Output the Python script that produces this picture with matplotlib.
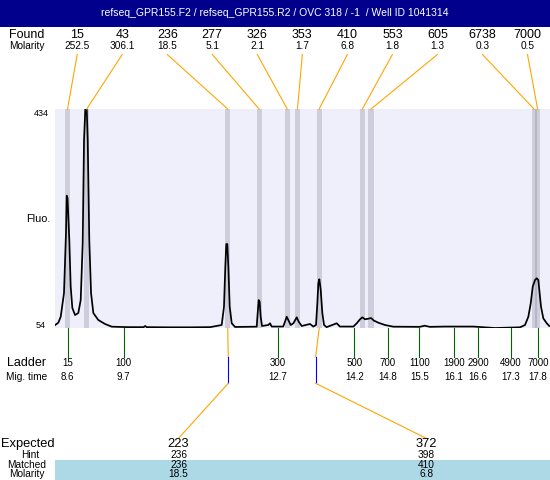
import matplotlib
matplotlib.use("Agg")
import matplotlib.pyplot as plt
from matplotlib.patches import Rectangle

plt.rcParams['font.family'] = ['Liberation Sans', 'DejaVu Sans']

titulo = "refseq_GPR155.F2 / refseq_GPR155.R2 / OVC 318 / -1  / Well ID 1041314"

# picos encontrados
found_sizes = ['15', '43', '236', '277', '326', '353', '410', '553', '605', '6738', '7000']
found_molarity = ['252.5', '306.1', '18.5', '5.1', '2.1', '1.7', '6.8', '1.8', '1.3', '0.3', '0.5']
found_times = [8.61, 8.986, 11.745, 12.36, 12.91, 13.11, 13.535, 14.38, 14.55, 17.74, 17.81]

# ladder
ladder_sizes = ['15', '100', '300', '500', '700', '1100', '1900', '2900', '4900', '7000']
ladder_times = [8.614, 9.710, 12.724, 14.223, 14.877, 15.494, 16.173, 16.649, 17.283, 17.812]
mig_labels = ['8.6', '9.7', '12.7', '14.2', '14.8', '15.5', '16.1', '16.6', '17.3', '17.8']

# esperados
expected_sizes = ['223', '372']
expected_times = [11.756, 13.467]
matched_times = [11.745, 13.535]
hint = ['236', '398']
matched = ['236', '410']
matched_molarity = ['18.5', '6.8']

# electroferograma (tiempo, fluorescencia)
trace_t = [8.355, 8.43, 8.477, 8.541, 8.580, 8.594, 8.61, 8.645, 8.672, 8.704, 8.757, 8.821,
           8.868, 8.907, 8.933, 8.958, 8.986, 9.005, 9.036, 9.07, 9.115, 9.212, 9.344, 9.475,
           9.8, 10.10, 10.13, 10.16, 10.6, 11.0, 11.4,
           11.627, 11.672, 11.698, 11.717, 11.737, 11.757, 11.784, 11.823, 11.888,
           12.312, 12.331, 12.351, 12.37, 12.39, 12.416, 12.54, 12.573, 12.606,
           12.83, 12.866, 12.899, 12.93, 12.978, 13.03, 13.095, 13.134, 13.193, 13.355, 13.42,
           13.473, 13.499, 13.518, 13.538, 13.565, 13.597, 13.63, 13.68, 13.878, 13.94,
           14.204, 14.27, 14.334, 14.38, 14.432, 14.496, 14.549, 14.608, 14.692, 14.823, 14.985,
           15.5, 15.6, 15.7, 16.0, 16.55, 16.976, 17.465,
           17.563, 17.628, 17.675, 17.714, 17.759, 17.792, 17.823, 17.843, 17.876, 17.921, 17.988, 18.038]
trace_v = [58.9, 63.7, 74.1, 115.2, 219.2, 283.8, 279.8, 207.0, 126.1, 89.2, 77.0, 80.5,
           103.0, 201.8, 380.3, 433.2, 434.0, 380.0, 207.0, 115.2, 80.5, 68.4, 61.5, 56.8,
           56.0, 56.0, 58.0, 56.0, 55.7, 55.7, 56.0,
           59.7, 91.4, 160.8, 200.0, 200.0, 160.8, 91.4, 62.7, 56.3,
           56.8, 80.0, 103.0, 100.0, 74.0, 58.0, 59.7, 62.7, 57.0,
           57.0, 65.4, 74.0, 68.4, 59.7, 62.7, 73.0, 65.4, 58.0, 61.5, 57.0,
           59.7, 97.3, 132.0, 139.0, 120.4, 80.0, 59.7, 56.0, 62.7, 57.0,
           57.0, 62.7, 69.6, 73.0, 69.6, 70.6, 71.8, 67.2, 63.7, 59.7, 56.8,
           56.5, 58.5, 56.5, 57.0, 57.0, 54.5, 55.7,
           59.7, 74.0, 97.3, 126.1, 137.7, 140.7, 137.7, 120.4, 91.4, 71.3, 62.7, 58.0]

t_lim = (8.359, 18.052)
fluo_lim = (54, 434)

fig = plt.figure(figsize=(5.5, 4.8), dpi=100)

# grafico principal
ax = fig.add_axes([54.7 / 550, 151.7 / 480, 495.3 / 550, 219.3 / 480])
ax.set_facecolor('#EFEFFC')
for t in found_times:
    ax.axvspan(t - 0.05, t + 0.05, color='#808090', alpha=0.3, lw=0)
ax.plot(trace_t, trace_v, color='black', lw=1.25)
ax.set_xlim(*t_lim)
ax.set_ylim(*fluo_lim)
ax.set_xticks([])
ax.set_yticks([])
for s in ax.spines.values():
    s.set_visible(False)

# capa de anotaciones en pixeles
ov = fig.add_axes([0, 0, 1, 1], zorder=5)
ov.set_xlim(0, 550)
ov.set_ylim(480, 0)
ov.axis('off')
ov.patch.set_visible(False)

xa = ax.get_xaxis_transform()


def px(trans, xy):
    return ov.transData.inverted().transform(trans.transform(xy))


x_left = px(ax.transAxes, (0, 0))[0]
y_top = px(ax.transAxes, (0, 1))[1]
y_bot = px(ax.transAxes, (0, 0))[1]

# barra de titulo
ov.add_patch(Rectangle((0, 0), 550, 26.7, color='#00008C', lw=0))
ov.text(275, 13.5, titulo, color='white', fontsize=7.5, ha='center', va='center')

lbl_x = 27
ov.text(lbl_x, 34.5, 'Found', fontsize=9, ha='center', va='center')
ov.text(lbl_x, 46.3, 'Molarity', fontsize=7.3, ha='center', va='center')

n = len(found_sizes)
for i, t in enumerate(found_times):
    x0 = px(ax.transAxes, ((i + 0.5) / n, 0))[0]
    xe = px(xa, (t, 1))[0]
    ov.text(x0, 34.5, found_sizes[i], fontsize=9, ha='center', va='center')
    ov.text(x0, 46.3, found_molarity[i], fontsize=7.3, ha='center', va='center')
    ov.plot([x0, xe], [54.5, y_top], color='orange', lw=0.8)

# ejes
ov.text(41, 113, '434', fontsize=6.5, ha='center', va='center')
ov.text(41, 326, '54', fontsize=6.5, ha='center', va='center')
ov.text(38, 219, 'Fluo.', fontsize=7.8, ha='center', va='center')

# ladder
ov.text(lbl_x, 363, 'Ladder', fontsize=9, ha='center', va='center')
ov.text(lbl_x, 377, 'Mig. time', fontsize=7.3, ha='center', va='center')
for i, t in enumerate(ladder_times):
    x = px(xa, (t, 0))[0]
    ov.plot([x, x], [y_bot, 356.7], color='#006400', lw=0.8)
    ov.text(x, 363, ladder_sizes[i], fontsize=7, ha='center', va='center')
    ov.text(x, 377, mig_labels[i], fontsize=7, ha='center', va='center')

# tabla de esperados
ov.add_patch(Rectangle((x_left, 460), 550 - x_left, 20, color='#ADD8E6', lw=0))
ov.text(lbl_x + 1, 444, 'Expected', fontsize=9.3, ha='center', va='center')
ov.text(lbl_x + 3, 455.5, 'Hint', fontsize=7.3, ha='center', va='center')
ov.text(lbl_x, 465, 'Matched', fontsize=7.3, ha='center', va='center')
ov.text(lbl_x, 474, 'Molarity', fontsize=7.3, ha='center', va='center')
m = len(expected_sizes)
for j in range(m):
    xc = px(ax.transAxes, ((j + 0.5) / m, 0))[0]
    xf = px(xa, (matched_times[j], 0))[0]
    xe = px(xa, (expected_times[j], 0))[0]
    ov.plot([xf, xe], [y_bot, 356.7], color='orange', lw=0.8)
    ov.plot([xe, xe], [356.7, 383.3], color='blue', lw=0.8)
    ov.plot([xe, xc], [383.3, 438.3], color='orange', lw=0.8)
    ov.text(xc, 444, expected_sizes[j], fontsize=9.3, ha='center', va='center')
    ov.text(xc, 455.5, hint[j], fontsize=7.3, ha='center', va='center')
    ov.text(xc, 465, matched[j], fontsize=7.3, ha='center', va='center')
    ov.text(xc, 474, matched_molarity[j], fontsize=7.3, ha='center', va='center')

fig.savefig("out.png", dpi=100)
